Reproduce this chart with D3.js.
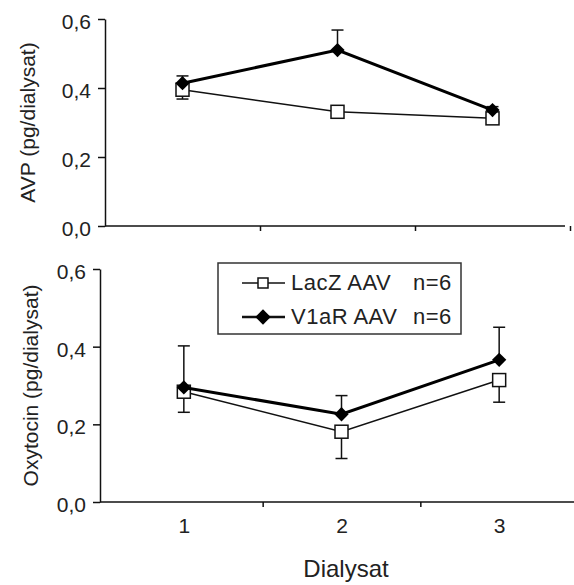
<!DOCTYPE html>
<html>
<head>
<meta charset="utf-8">
<script src="https://cdn.jsdelivr.net/npm/d3@7"></script>
<style>
  body { margin: 0; background: #fff; }
  svg { display: block; font-family: "Liberation Sans", Arial, sans-serif; }
  .axis path, .axis line { stroke: #111; stroke-width: 1.5; }
  .axis text { fill: #222; font-size: 21px; font-family: "Liberation Sans", Arial, sans-serif; }
</style>
</head>
<body>
<div id="chart"></div>
<script>
// dialysate samples
const samples = [1, 2, 3];
const yTicks = [0, 0.2, 0.4, 0.6];

// AVP (pg/dialysat)
const avpLacZ = [0.395, 0.331, 0.312];
const avpLacZErr = [0.027, 0.01, 0.01];
const avpV1aR = [0.414, 0.51, 0.336];
const avpV1aRErr = [0.021, 0.058, 0.01];

// Oxytocin (pg/dialysat)
const oxtLacZ = [0.284, 0.181, 0.314];
const oxtLacZErr = [0.053, 0.069, 0.057];
const oxtV1aR = [0.295, 0.226, 0.366];
const oxtV1aRErr = [0.107, 0.048, 0.084];

const seriesNames = ["LacZ AAV", "V1aR AAV"];
const seriesN = ["n=6", "n=6"];

const width = 574, height = 585;

const svg = d3.select("#chart")
  .append("svg")
  .attr("width", width)
  .attr("height", height);

const fmt = d => d3.format(".1f")(d).replace(".", ",");

// one panel = y axis + x axis + two series
function panel(opts) {
  const x = d3.scaleLinear().domain([0.5, 3.5]).range(opts.xRange);
  const y = d3.scaleLinear().domain([0, 0.6]).range(opts.yRange);

  const g = svg.append("g");

  // y axis
  g.append("g")
    .attr("class", "axis")
    .attr("transform", `translate(${opts.yAxisX},0)`)
    .call(d3.axisLeft(y).tickValues(yTicks).tickFormat(fmt).tickSize(7).tickSizeOuter(0).tickPadding(7))
    .call(a => a.selectAll("text").attr("dy", "0.45em"));

  // x axis: tick marks between samples, labels under samples
  const xa = g.append("g")
    .attr("class", "axis")
    .attr("transform", `translate(0,${opts.yRange[0]})`)
    .call(d3.axisBottom(x).tickValues([1.5, 2.5, 3.5]).tickFormat("").tickSize(5).tickSizeOuter(0));
  xa.select(".domain").remove();
  xa.append("line")
    .attr("x1", opts.yAxisX).attr("x2", opts.xEnd)
    .attr("stroke", "#111").attr("stroke-width", 1.5);

  if (opts.labels) {
    g.append("g")
      .attr("class", "axis")
      .attr("transform", `translate(0,${opts.yRange[0]})`)
      .call(d3.axisBottom(x).tickValues(samples).tickFormat(d3.format("d")).tickSize(0).tickPadding(16))
      .call(a => a.select(".domain").remove());
  }

  // axis title
  g.append("text")
    .attr("transform", `translate(${opts.titleX},${(opts.yRange[0] + opts.yRange[1]) / 2}) rotate(-90)`)
    .attr("text-anchor", "middle")
    .attr("font-size", 21)
    .attr("fill", "#222")
    .text(opts.title);

  const line = d3.line().x((d, i) => x(samples[i])).y(d => y(d));

  // LacZ error bars go down
  g.selectAll(".errL")
    .data(opts.lacz)
    .join("g")
    .each(function(d, i) {
      const e = d3.select(this);
      const cx = x(samples[i]);
      e.append("line").attr("x1", cx).attr("x2", cx)
        .attr("y1", y(d)).attr("y2", y(d - opts.laczErr[i]))
        .attr("stroke", "#111").attr("stroke-width", 1.5);
      e.append("line").attr("x1", cx - 6).attr("x2", cx + 6)
        .attr("y1", y(d - opts.laczErr[i])).attr("y2", y(d - opts.laczErr[i]))
        .attr("stroke", "#111").attr("stroke-width", 1.5);
    });

  // V1aR error bars go up
  g.selectAll(".errV")
    .data(opts.v1ar)
    .join("g")
    .each(function(d, i) {
      const e = d3.select(this);
      const cx = x(samples[i]);
      e.append("line").attr("x1", cx).attr("x2", cx)
        .attr("y1", y(d)).attr("y2", y(d + opts.v1arErr[i]))
        .attr("stroke", "#111").attr("stroke-width", 1.5);
      e.append("line").attr("x1", cx - 6).attr("x2", cx + 6)
        .attr("y1", y(d + opts.v1arErr[i])).attr("y2", y(d + opts.v1arErr[i]))
        .attr("stroke", "#111").attr("stroke-width", 1.5);
    });

  g.append("path")
    .attr("d", line(opts.lacz))
    .attr("fill", "none").attr("stroke", "#111").attr("stroke-width", 1.5);

  g.selectAll(".sq")
    .data(opts.lacz)
    .join("rect")
    .attr("x", (d, i) => x(samples[i]) - 6.5)
    .attr("y", d => y(d) - 6.5)
    .attr("width", 13).attr("height", 13)
    .attr("fill", "#fff").attr("stroke", "#111").attr("stroke-width", 1.5);

  g.append("path")
    .attr("d", line(opts.v1ar))
    .attr("fill", "none").attr("stroke", "#000").attr("stroke-width", 3);

  g.selectAll(".dm")
    .data(opts.v1ar)
    .join("path")
    .attr("d", d3.symbol(d3.symbolDiamond2, 130))
    .attr("transform", (d, i) => `translate(${x(samples[i])},${y(d)})`)
    .attr("fill", "#000");
}

panel({
  xRange: [105, 570], xEnd: 565, yRange: [226, 19], yAxisX: 105,
  title: "AVP (pg/dialysat)", titleX: 35, labels: false,
  lacz: avpLacZ, laczErr: avpLacZErr, v1ar: avpV1aR, v1arErr: avpV1aRErr
});

panel({
  xRange: [105, 578], xEnd: 574, yRange: [502, 269], yAxisX: 100,
  title: "Oxytocin (pg/dialysat)", titleX: 38, labels: true,
  lacz: oxtLacZ, laczErr: oxtLacZErr, v1ar: oxtV1aR, v1arErr: oxtV1aRErr
});

// x title
svg.append("text")
  .attr("x", 346).attr("y", 577)
  .attr("text-anchor", "middle")
  .attr("font-size", 24)
  .attr("fill", "#222")
  .text("Dialysat");

// legend
const legend = svg.append("g").attr("transform", "translate(218,263)");
legend.append("rect")
  .attr("width", 243).attr("height", 71)
  .attr("fill", "#fff").attr("stroke", "#333").attr("stroke-width", 1.5);

const rows = legend.selectAll(".row")
  .data(seriesNames)
  .join("g")
  .attr("transform", (d, i) => `translate(0,${20 + i * 34})`);

rows.append("line")
  .attr("x1", 24).attr("x2", 67)
  .attr("stroke", "#111").attr("stroke-width", (d, i) => i ? 2.5 : 1.5);

rows.filter((d, i) => i === 0).append("rect")
  .attr("x", 40).attr("y", -5).attr("width", 10).attr("height", 10)
  .attr("fill", "#fff").attr("stroke", "#111").attr("stroke-width", 1.5);

rows.filter((d, i) => i === 1).append("path")
  .attr("d", d3.symbol(d3.symbolDiamond2, 150))
  .attr("transform", "translate(45,0)")
  .attr("fill", "#000");

rows.append("text")
  .attr("x", 73).attr("y", 7)
  .attr("font-size", 22).attr("letter-spacing", 0.5).attr("fill", "#222")
  .text(d => d);

rows.append("text")
  .attr("x", 195).attr("y", 7)
  .attr("font-size", 22).attr("letter-spacing", 0.5).attr("fill", "#222")
  .text((d, i) => seriesN[i]);
</script>
</body>
</html>
